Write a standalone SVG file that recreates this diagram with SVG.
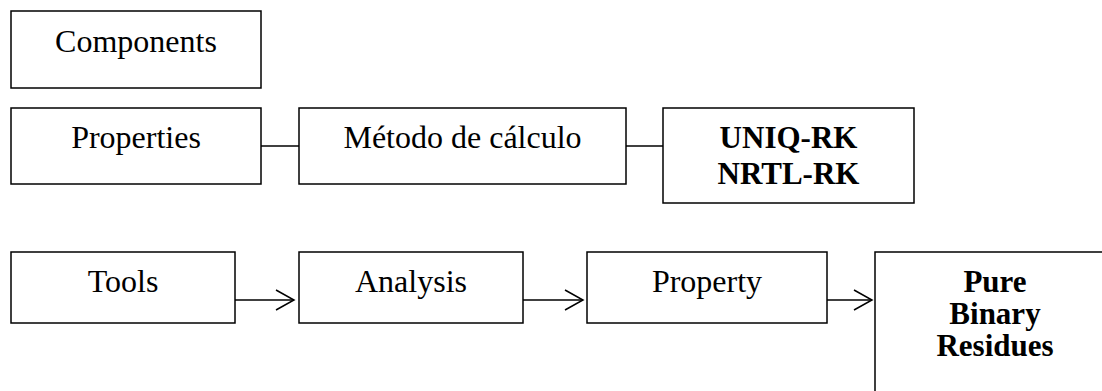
<svg xmlns="http://www.w3.org/2000/svg" width="1102" height="391" viewBox="0 0 1102 391">
<style>
.box{fill:#fff;stroke:#000;stroke-width:1.5}
.t{font-family:"Liberation Serif","Times New Roman",serif;font-size:32px;fill:#000;text-anchor:middle}
.b{font-weight:bold;font-size:31px}
.c{stroke:#000;stroke-width:1.5;fill:none}
</style>
<defs>
<marker id="arr" markerUnits="userSpaceOnUse" markerWidth="22" markerHeight="24" refX="19" refY="11" orient="auto">
<path d="M1,1 L19,11 L1,21" fill="none" stroke="#000" stroke-width="1.5"/>
</marker>
</defs>
<rect width="1102" height="391" fill="#fff"/>
<g id="components"><rect class="box" x="11" y="11" width="250" height="77"/><text class="t" x="136" y="52">Components</text></g>
<g id="properties"><rect class="box" x="11" y="108" width="250" height="76"/><text class="t" x="136" y="148">Properties</text></g>
<g id="metodo"><rect class="box" x="299" y="108" width="327" height="76"/><text class="t" x="462.5" y="148">Método de cálculo</text></g>
<g id="uniq"><rect class="box" x="663" y="108" width="251" height="95"/><text class="t b" x="788.5" y="148">UNIQ-RK</text><text class="t b" x="788.5" y="184">NRTL-RK</text></g>
<g id="tools"><rect class="box" x="11" y="252" width="224" height="71"/><text class="t" x="123" y="292">Tools</text></g>
<g id="analysis"><rect class="box" x="299" y="252" width="224" height="71"/><text class="t" x="411" y="292">Analysis</text></g>
<g id="property"><rect class="box" x="587" y="252" width="240" height="71"/><text class="t" x="707" y="292">Property</text></g>
<g id="pure"><rect class="box" x="875" y="252" width="240" height="160"/><text class="t b" x="995" y="292">Pure</text><text class="t b" x="995" y="324">Binary</text><text class="t b" x="995" y="356">Residues</text></g>
<g id="connectors">
<line class="c" x1="261" y1="146" x2="299" y2="146"/>
<line class="c" x1="626" y1="146" x2="663" y2="146"/>
<line class="c" x1="235" y1="300" x2="294" y2="300" marker-end="url(#arr)"/>
<line class="c" x1="523" y1="300" x2="583" y2="300" marker-end="url(#arr)"/>
<line class="c" x1="827" y1="300" x2="872" y2="300" marker-end="url(#arr)"/>
</g>
</svg>
